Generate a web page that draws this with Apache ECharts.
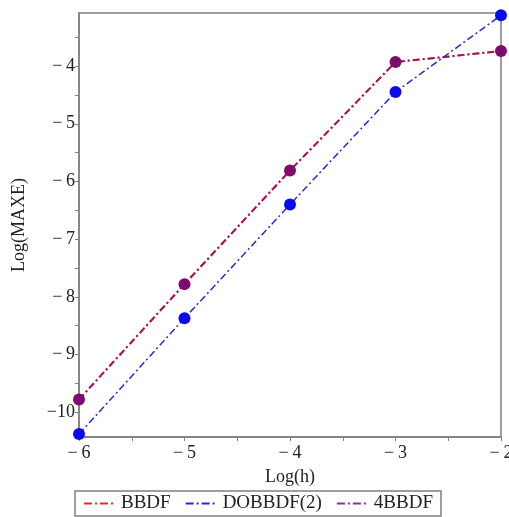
<!DOCTYPE html>
<html><head><meta charset="utf-8">
<script src="https://cdn.jsdelivr.net/npm/echarts@6/dist/echarts.min.js"></script>
<style>html,body{margin:0;padding:0;background:#fff}#c{width:509px;height:517px}</style>
</head><body><div id="c"></div>
<script>
const logH = [-6, -5, -4, -3, -2];
const bbdf = [-9.78, -7.78, -5.81, -3.93, -3.74];
const dobbdf2 = [-10.38, -8.37, -6.40, -4.45, -3.12];
const fourBbdf = [-9.78, -7.78, -5.81, -3.93, -3.74];
const xTickLabels = [-6, -5, -4, -3, -2];
const xTicks = [-6, -5.5, -5, -4.5, -4, -3.5, -3, -2.5, -2];
const yTickLabels = [-10, -9, -8, -7, -6, -5, -4];
const yTicks = [-10, -9.5, -9, -8.5, -8, -7.5, -7, -6.5, -6, -5.5, -5, -4.5, -4, -3.5];

const pairs = ys => logH.map((x, i) => [x, ys[i]]);
const fmt = v => (v < 0 ? '\u2212' : '') + (Math.abs(v) < 10 ? '\u2009' : '') + Math.abs(v);
const font = 'Liberation Serif';
const dash = [7, 3, 2, 3];
const frame = '#7f7f7f';

const chart = echarts.init(document.getElementById('c'));
chart.setOption({
  animation: false,
  textStyle: {fontFamily: font},
  grid: {left: 79, right: 8, top: 13, bottom: 80, show: true, borderColor: frame, borderWidth: 1.5,
         outerBoundsMode: 'none', containLabel: false},
  xAxis: {
    type: 'value', min: -6, max: -2,
    name: 'Log(h)', nameLocation: 'middle', nameGap: 31,
    nameTextStyle: {fontFamily: font, fontSize: 18, color: '#222'},
    axisLine: {lineStyle: {color: frame, width: 1.5}},
    axisTick: {show: true, length: 4, customValues: xTicks, lineStyle: {color: frame}},
    axisLabel: {customValues: xTickLabels, formatter: fmt, fontFamily: font, fontSize: 18, color: '#222', margin: 7},
    splitLine: {show: false}
  },
  yAxis: {
    type: 'value', min: -10.43, max: -3.08,
    name: 'Log(MAXE)', nameLocation: 'middle', nameGap: 51,
    nameTextStyle: {fontFamily: font, fontSize: 18, color: '#222'},
    axisLine: {lineStyle: {color: frame, width: 1.5}},
    axisTick: {show: true, length: 4, customValues: yTicks, lineStyle: {color: frame}},
    axisLabel: {customValues: yTickLabels, formatter: fmt, fontFamily: font, fontSize: 18, color: '#222', margin: 4},
    splitLine: {show: false}
  },
  legend: {
    bottom: 1, left: 75,
    data: [
      {name: 'BBDF', lineStyle: {color: '#ee2828', opacity: 1, width: 2, type: [8, 3, 2, 3]}},
      {name: 'DOBBDF(2)', lineStyle: {color: '#2626e0', opacity: 1, width: 2, type: [8, 3, 2, 3]}},
      {name: '4BBDF', lineStyle: {color: '#9a2a9a', opacity: 1, width: 2, type: [8, 3, 2, 3]}}
    ],
    itemWidth: 32, itemHeight: 14, itemGap: 14,
    padding: [3, 8],
    borderColor: frame, borderWidth: 1.5,
    itemStyle: {opacity: 0},
    textStyle: {fontFamily: font, fontSize: 19, color: '#222'}
  },
  series: [
    {name: 'BBDF', type: 'line', data: pairs(bbdf), symbol: 'none',
     itemStyle: {color: '#e82030'}, lineStyle: {color: '#e82030', width: 2, type: dash}, z: 2},
    {name: '4BBDF', type: 'line', data: pairs(fourBbdf), symbol: 'circle', symbolSize: 12,
     itemStyle: {color: '#7d0c6c'}, lineStyle: {color: '#7a0a6a', width: 2, type: dash, opacity: 0.6}, z: 3},
    {name: 'DOBBDF(2)', type: 'line', data: pairs(dobbdf2), symbol: 'circle', symbolSize: 12,
     itemStyle: {color: '#0a0aee'}, lineStyle: {color: '#2a2ad0', width: 1.5, type: dash}, z: 4}
  ]
});
</script></body></html>
